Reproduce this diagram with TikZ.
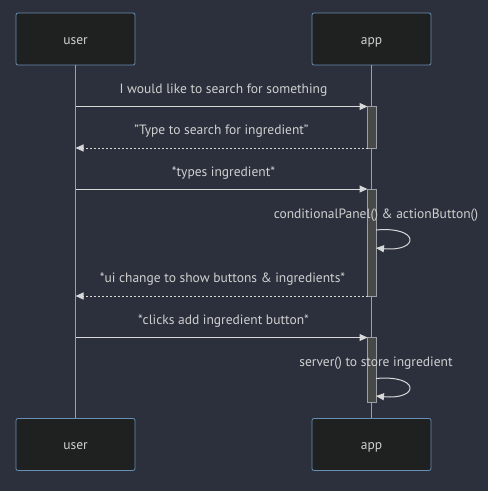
\documentclass[tikz,border=0pt]{standalone}
\usepackage{fontspec}
\setmainfont{PT Sans}
\usetikzlibrary{arrows.meta}
\definecolor{bg}{HTML}{2B303C}
\definecolor{boxfill}{HTML}{1F2020}
\definecolor{boxline}{HTML}{6A8FB5}
\definecolor{lifeln}{HTML}{7FA6CC}
\definecolor{txt}{HTML}{D0D0D0}
\definecolor{msgln}{HTML}{D8D8D8}
\definecolor{actfill}{HTML}{474949}
\definecolor{actline}{HTML}{9AA0A6}
\tikzset{
  actor/.style={draw=boxline, fill=boxfill, rounded corners=2pt, minimum width=119pt, minimum height=52pt, line width=0.8pt, text=txt, font=\fontsize{13.5pt}{15pt}\selectfont, inner sep=0pt, text height=10pt, text depth=0pt},
  life/.style={draw=lifeln, line width=1pt},
  actbar/.style={draw=actline, fill=actfill, line width=0.6pt},
  msg/.style={draw=msgln, line width=1pt, -{Triangle[length=8pt,width=7pt]}},
  ret/.style={msg, dash pattern=on 2pt off 2pt},
  lbl/.style={text=txt, font=\fontsize{13.5pt}{15pt}\selectfont, inner sep=0pt}
}
\begin{document}
\begin{tikzpicture}[x=1pt,y=-1pt]
\fill[bg] (0,0) rectangle (488,491);
\useasboundingbox (0,0) rectangle (488,491);
% actors
\node[actor] (ut) at (75.5,39) {user};
\node[actor] (at) at (371.5,39) {app};
\node[actor] (ub) at (75.5,444.5) {user};
\node[actor] (ab) at (371.5,444.5) {app};
% lifelines
\draw[life] (ut.south) -- (ub.north);
\draw[life] (at.south) -- (ab.north);
% activations
\filldraw[actbar] (367.5,106.5) rectangle (376,148);
\filldraw[actbar] (367.5,189) rectangle (376,296);
\filldraw[actbar] (367.5,337.5) rectangle (376,402.5);
% coordinates
\coordinate (u1) at (75.5,106.5); \coordinate (a1) at (367.5,106.5);
\coordinate (u2) at (75.5,148); \coordinate (a2) at (367.5,148);
\coordinate (u3) at (75.5,189); \coordinate (a3) at (367.5,189);
\coordinate (u4) at (75.5,296); \coordinate (a4) at (367.5,296);
\coordinate (u5) at (75.5,337.5); \coordinate (a5) at (367.5,337.5);
\coordinate (s1a) at (376,230); \coordinate (s1b) at (376,248);
\coordinate (s2a) at (376,378.5); \coordinate (s2b) at (376,396);
% messages
\node[lbl] (t1) at (223.5,90) {I would like to search for something};
\draw[msg] (u1) -- (a1);
\node[lbl] (t2) at (221.5,131.5) {"Type to search for ingredient"};
\draw[ret] (a2) -- (u2);
\node[lbl] (t3) at (223.5,173.5) {*types ingredient*};
\draw[msg] (u3) -- (a3);
\node[lbl] (t4) at (376,215) {conditionalPanel() \& actionButton()};
\draw[msg] (s1a) .. controls (420,226) and (420,252) .. (s1b);
\node[lbl] (t5) at (222.5,279.5) {*ui change to show buttons \& ingredients*};
\draw[ret] (a4) -- (u4);
\node[lbl] (t6) at (223.5,321) {*clicks add ingredient button*};
\draw[msg] (u5) -- (a5);
\node[lbl] (t7) at (376,363) {server() to store ingredient};
\draw[msg] (s2a) .. controls (420,374.5) and (420,400) .. (s2b);
\end{tikzpicture}
\end{document}
